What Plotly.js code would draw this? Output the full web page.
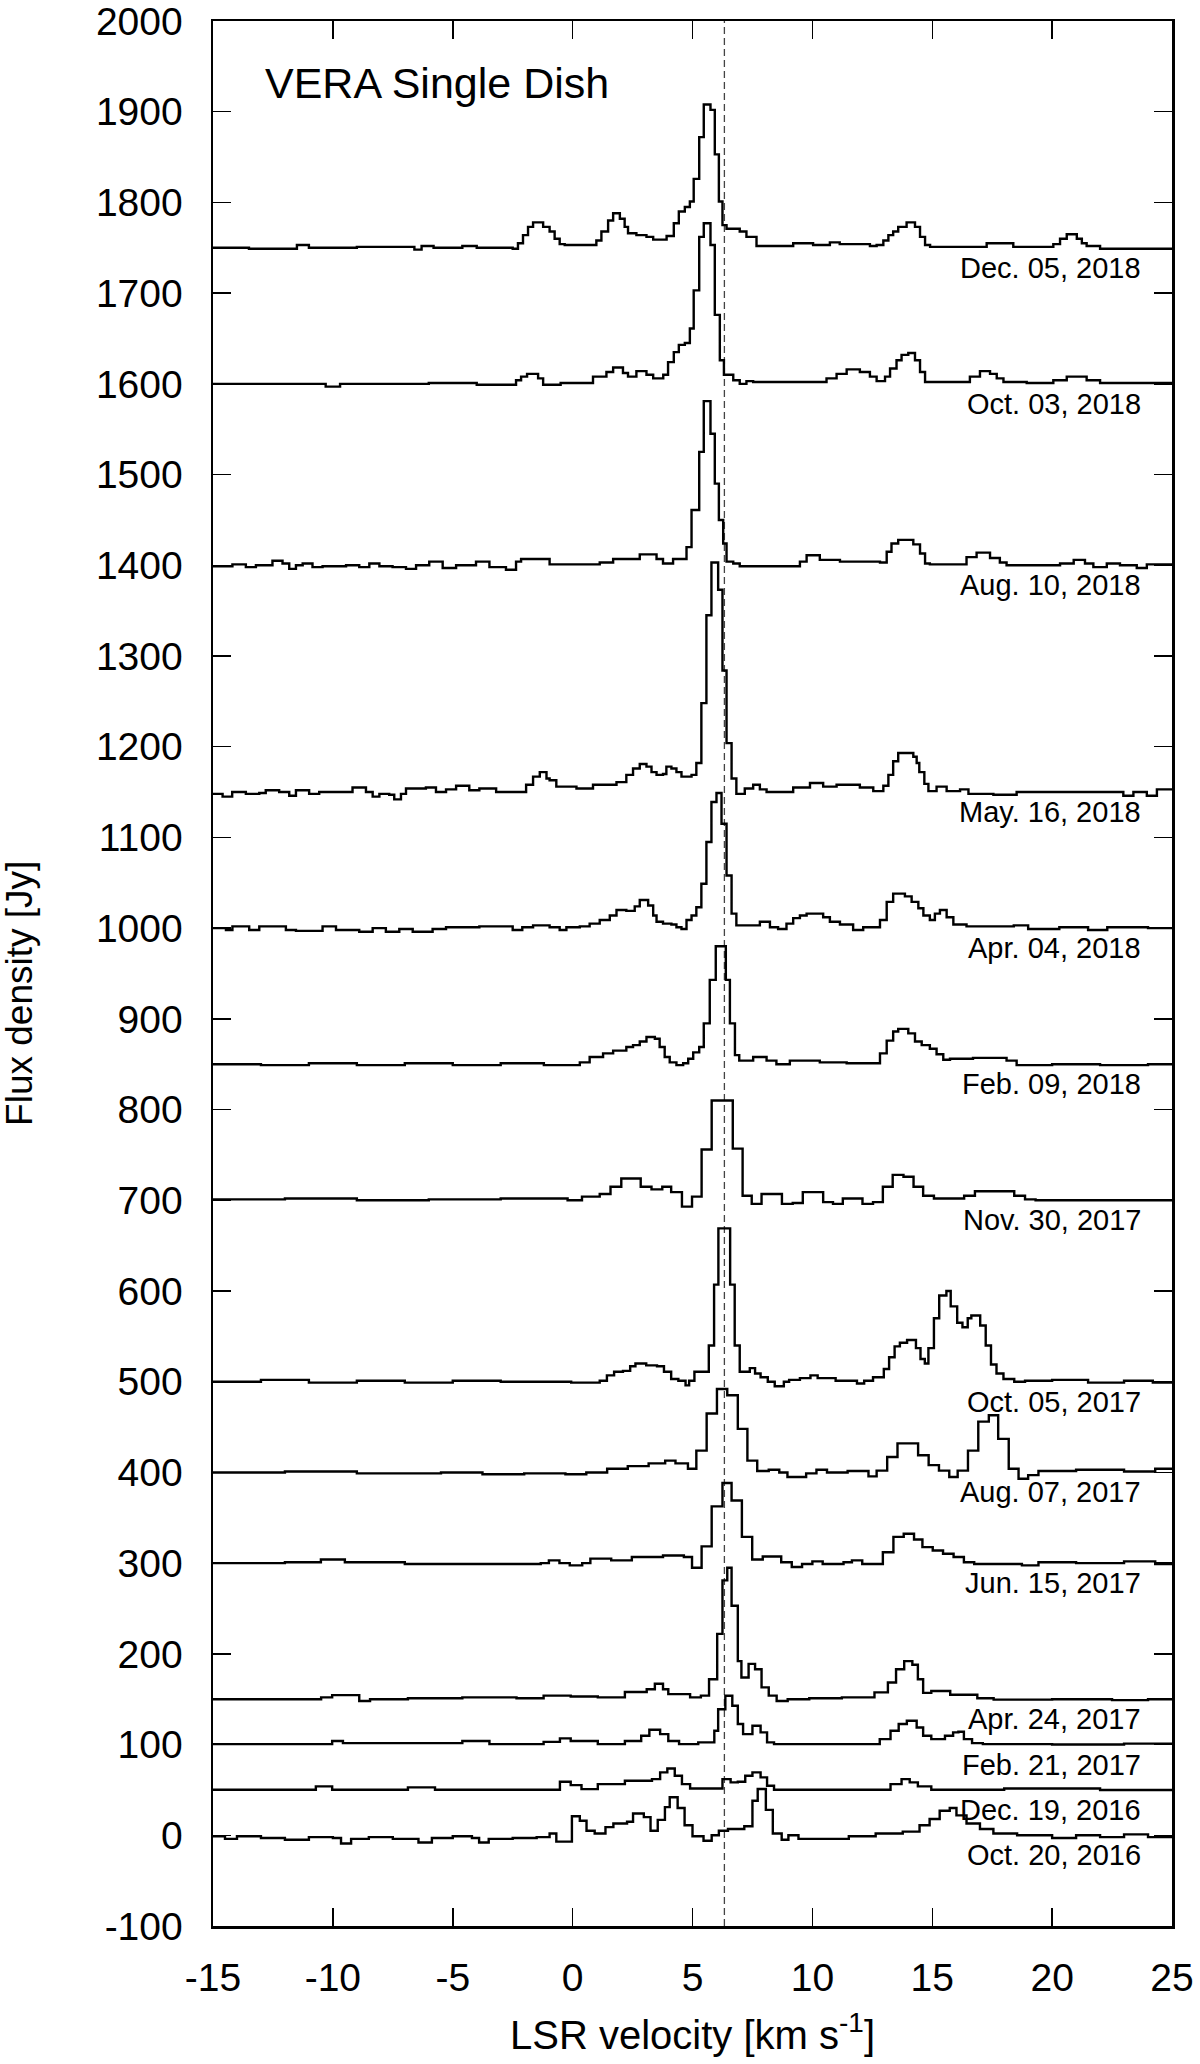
<!DOCTYPE html>
<html>
<head>
<meta charset="utf-8">
<script src="https://cdn.plot.ly/plotly-3.0.1.min.js"></script>
<style>
html,body{margin:0;padding:0;background:#fff;}
#chart{width:1200px;height:2064px;}
</style>
</head>
<body>
<div id="chart"></div>
<script>
// ---------------- DATA ----------------
// Each spectrum: channel left-edge velocities (km/s) and flux density (Jy, already offset)
const dates = ['Dec. 05, 2018','Oct. 03, 2018','Aug. 10, 2018','May. 16, 2018','Apr. 04, 2018','Feb. 09, 2018','Nov. 30, 2017','Oct. 05, 2017','Aug. 07, 2017','Jun. 15, 2017','Apr. 24, 2017','Feb. 21, 2017','Dec. 19, 2016','Oct. 20, 2016'];
const offsets = [1750,1600,1400,1150,1000,850,700,500,400,300,150,100,50,0];
const systemicVelocity = 6.33;

const xTickLabels = ['-15','-10','-5','0','5','10','15','20','25'];
const yTickLabels = ['-100','0','100','200','300','400','500','600','700','800','900','1000','1100','1200','1300','1400','1500','1600','1700','1800','1900','2000'];

const v_20181205 = [-15,-13.5,-11.5,-11.0,-9,-6.6,-6.3,-5.8,-4.6,-4.0,-2.5,-2.28,-2.07,-1.86,-1.65,-1.23,-0.96,-0.75,-0.54,-0.33,0.99,1.20,1.48,1.69,1.97,2.17,2.31,2.66,3.08,3.36,3.92,4.22,4.43,4.68,4.89,5.05,5.28,5.47,5.75,5.93,6.10,6.25,6.42,6.97,7.25,7.67,9.20,10.03,10.73,11.14,12.40,12.68,12.96,13.17,13.37,13.58,13.93,14.28,14.49,14.70,14.91,17.27,18.38,20.05,20.33,20.61,21.03,21.24,21.44,22.0,25];
const f_20181205 = [1750,1749,1753,1750,1751,1748,1752,1750,1752,1750,1749,1755,1764,1773,1778,1773,1768,1760,1754,1753,1758,1768,1780,1788,1782,1773,1766,1764,1762,1759,1763,1777,1790,1795,1801,1826,1872,1908,1902,1853,1801,1775,1771,1768,1762,1752,1755,1753,1756,1754,1752,1753,1758,1764,1768,1773,1778,1773,1762,1753,1751,1755,1751,1754,1760,1765,1760,1755,1752,1749,1749];

const v_20181003 = [-15,-10.3,-9.7,-6,-4,-2.36,-2.15,-1.9,-1.44,-1.23,-0.5,0.85,1.41,1.69,2.10,2.31,2.66,3.08,3.36,3.78,3.98,4.22,4.43,4.68,4.89,5.05,5.28,5.47,5.75,5.93,6.14,6.31,6.70,6.97,7.25,7.53,10.59,11.01,11.43,11.98,12.40,12.68,13.03,13.24,13.51,13.72,14.0,14.28,14.49,14.70,16.57,16.99,17.41,17.69,17.97,18.94,20.05,20.61,21.44,22.0,25];
const f_20181003 = [1600,1597,1600,1601,1599,1604,1608,1611,1606,1599,1601,1608,1613,1618,1612,1608,1614,1610,1606,1610,1624,1635,1643,1645,1661,1703,1762,1777,1753,1676,1626,1610,1604,1600,1603,1602,1606,1611,1616,1613,1608,1603,1608,1617,1626,1632,1634,1626,1613,1602,1608,1614,1611,1606,1602,1601,1604,1608,1604,1601,1601];

const v_20180810 = [-15,-14.19,-13.63,-13.21,-12.52,-12.1,-11.82,-11.54,-11.26,-10.85,-10.43,-9.45,-8.9,-8.48,-8.06,-7.51,-6.95,-6.53,-5.98,-5.42,-4.86,-4.03,-3.47,-2.78,-2.36,-2.15,-0.96,1.13,1.69,2.80,3.50,3.77,4.19,4.75,4.96,5.28,5.47,5.75,5.93,6.10,6.28,6.42,6.70,6.97,9.48,9.76,10.31,11.15,12.82,13.10,13.30,13.58,14.21,14.49,14.70,14.90,16.43,16.85,17.41,17.82,18.1,20.33,20.9,21.37,21.72,22.28,22.83,23.53,23.95,25];
const f_20180810 = [1399,1401,1398,1400,1405,1402,1396,1400,1402,1398,1399,1400,1398,1402,1399,1398,1396,1400,1404,1397,1400,1404,1398,1395,1404,1407,1401,1403,1407,1412,1407,1402,1407,1420,1461,1525,1581,1545,1490,1450,1424,1404,1402,1399,1404,1411,1406,1404,1403,1415,1424,1428,1423,1413,1402,1401,1409,1414,1408,1403,1400,1402,1406,1402,1398,1402,1400,1397,1401,1401];

const v_20180516 = [-15,-14.6,-14.2,-13.63,-13.07,-12.8,-12.24,-11.82,-11.54,-10.99,-10.57,-9.18,-8.62,-8.34,-8.06,-7.65,-7.44,-7.16,-6.95,-6.12,-5.70,-5.28,-4.86,-4.31,-3.89,-3.19,-1.94,-1.65,-1.37,-1.09,-0.96,-0.68,0.16,0.85,1.83,2.24,2.52,2.80,3.08,3.29,3.50,3.77,3.91,4.12,4.33,4.54,4.96,5.16,5.37,5.58,5.79,6.07,6.25,6.42,6.63,6.83,7.18,7.53,7.81,8.09,9.20,9.90,10.45,11.01,11.98,12.54,12.96,13.17,13.37,13.58,14.21,14.35,14.46,14.67,14.84,15.18,15.60,16.16,16.51,17.55,18.52,22.97,23.39,23.95,24.37,25];
const f_20180516 = [1148,1145,1150,1148,1149,1152,1150,1146,1152,1148,1150,1155,1150,1145,1148,1147,1142,1148,1154,1155,1150,1153,1157,1152,1154,1150,1158,1167,1172,1165,1163,1156,1154,1158,1161,1169,1176,1181,1178,1172,1169,1170,1178,1176,1172,1167,1169,1182,1248,1345,1403,1373,1284,1204,1165,1148,1154,1158,1153,1150,1155,1160,1156,1158,1155,1151,1157,1169,1184,1193,1189,1182,1172,1159,1151,1156,1151,1153,1148,1147,1150,1146,1150,1146,1153,1153];

const v_20180404 = [-15,-14.46,-14.19,-13.49,-13.07,-11.96,-11.54,-10.43,-9.87,-8.9,-8.34,-7.79,-7.23,-6.67,-5.84,-5.28,-3.89,-2.5,-2.1,-1.65,-0.96,-0.54,-0.26,0.30,0.71,1.13,1.55,1.83,2.24,2.59,2.80,3.15,3.36,3.50,3.77,4.12,4.33,4.54,4.75,4.96,5.16,5.37,5.58,5.79,6.0,6.21,6.42,6.63,6.83,7.81,8.23,8.57,8.92,9.20,9.48,9.76,10.45,10.73,11.15,11.70,12.12,12.82,13.10,13.37,13.86,14.14,14.42,14.63,14.90,15.11,15.32,15.60,15.88,16.43,18.4,19.0,20.3,21.5,22.3,24,25];
const f_20180404 = [1000,998,1002,998,1002,998,997,1002,998,996,1000,996,999,996,999,1001,1002,998,1001,1003,1001,998,1001,1002,1005,1009,1014,1020,1019,1024,1031,1025,1014,1007,1005,1004,1001,999,1009,1014,1023,1049,1095,1139,1149,1115,1058,1016,1003,1007,1001,999,1005,1011,1014,1016,1012,1007,1004,998,1001,1009,1029,1038,1035,1029,1022,1014,1009,1016,1020,1012,1004,1002,1003,999,1001,998,1001,1000,1000];

const v_20180209 = [-15,-13,-11,-9,-7,-5,-3,-1.2,0.30,0.71,1.27,1.69,2.24,2.52,2.80,3.08,3.43,3.63,3.84,4.05,4.33,4.61,4.82,5.03,5.28,5.47,5.72,5.97,6.39,6.56,6.77,6.95,7.53,8.09,8.50,9.06,10.31,11.43,12.82,13.10,13.37,13.58,14.0,14.28,14.56,14.90,15.18,15.46,15.74,16.7,18.1,18.52,20,22,24,25];
const f_20180209 = [850,849,851,849,851,849,851,849,852,858,862,865,869,871,875,880,878,869,858,852,849,851,856,863,869,895,943,980,943,895,860,854,858,854,850,854,852,851,862,876,886,889,884,875,871,867,861,855,856,857,854,849,850,849,850,850];

const v_20171130 = [-15,-12,-9,-6,-3,-0.21,0.39,1.13,1.58,2.03,2.84,3.29,3.74,4.11,4.56,4.98,5.38,5.80,6.68,7.09,7.47,7.88,8.73,9.18,9.60,10.45,10.86,11.27,12.09,12.53,12.94,13.35,13.80,14.22,14.62,15.07,16.33,16.78,18.42,18.87,19.31,25];
const f_20171130 = [701,702,700,701,702,700,704,707,715,724,715,712,715,709,693,704,756,810,757,705,696,707,696,697,709,698,696,702,696,698,715,728,726,715,705,702,705,710,705,701,700,700];

const v_20171005 = [-15,-13,-11,-9,-7,-5,-3,-0.06,1.13,1.43,1.73,2.10,2.40,2.62,3.07,3.52,3.81,4.11,4.41,4.71,4.86,5.08,5.68,5.90,6.08,6.57,6.76,6.97,7.39,7.61,7.84,8.14,8.43,8.81,9.03,9.48,9.92,10.22,10.97,11.86,12.16,12.53,12.98,13.20,13.43,13.65,13.95,14.32,14.51,14.69,14.84,15.07,15.29,15.59,15.77,16.04,16.26,16.48,16.63,17.0,17.23,17.45,17.68,17.97,18.42,18.87,20,21.5,23,24.2,25];
const f_20171005 = [500,502,499,501,499,501,500,499,501,507,511,512,517,520,518,517,511,503,501,496,501,511,540,607,669,607,540,511,515,509,505,500,495,500,502,504,507,504,501,498,501,505,514,527,539,543,546,537,525,520,537,570,595,600,583,565,560,570,573,562,540,519,509,503,500,501,502,499,501,499,499];

const v_20170807 = [-15,-12,-9,-7.2,-5.49,-3.76,-2.02,-0.30,0.57,1.44,2.30,3.17,3.86,4.29,4.81,5.16,5.59,6.02,6.45,6.89,7.29,7.70,8.18,8.62,8.96,9.74,10.17,10.61,11.47,12.34,12.68,13.12,13.55,14.41,14.85,15.28,15.71,16.06,16.49,16.92,17.36,17.75,18.19,18.60,19.0,19.43,21,23,24.3,25];
const f_20170807 = [400,401,399,399,400,398,399,398,400,404,407,410,413,410,404,424,465,492,485,448,413,401.5,403,400,395,399,403,400,401.5,395.6,402,417,432,419,408,402,395,402,424,456,463,437,404,393,397,401.5,403,401,404,404];

const v_20170615 = [-15,-12,-10.5,-9.5,-7,-3,-1.33,-0.99,-0.55,-0.12,0.40,0.74,1.61,2.47,3.77,4.64,4.98,5.38,5.80,6.25,6.63,7.06,7.49,7.93,8.70,9.14,9.57,10.0,10.43,10.87,11.30,11.65,12.08,12.94,13.38,13.81,14.24,14.59,15.02,15.45,15.89,16.32,16.75,18.74,19.43,21,23,24.3,25];
const f_20170615 = [300,301,304,301,299,299,300,303,300,297.5,300,305,303,306.7,308.5,306.7,295,318.5,362.6,388.3,369,329,304,307.4,301,295.7,299,302,299,299,301,303,299,312,329,332.4,326,317.7,314,310.4,306.7,301,299,297.5,301,300,302,299,299];

const v_20170424 = [-15,-10.49,-10.03,-8.90,-8.45,-6.87,-4.60,-2.34,-1.21,-0.08,1.05,2.18,3.09,3.43,3.77,3.99,4.44,4.90,5.35,5.69,6.03,6.25,6.45,6.63,6.89,7.04,7.34,7.61,7.88,8.18,8.51,8.97,9.87,11.23,12.59,13.15,13.49,13.83,14.17,14.40,14.62,14.96,15.75,16.88,17.56,20,22.5,24,25];
const f_20170424 = [150,152,154.5,148,150,151,152,151,154,153,152,158,161,167,161,155.6,155.6,152,154,172,222,281,295,253,192,174,189,183,163,154,148,150,151,152,157.5,168.5,183,192,188,172,157,159,155,151,149.5,150,149,150,150];

const v_20170221 = [-15,-10.03,-9.58,-4.60,-3.47,-1.21,-0.53,-0.08,1.05,2.18,2.86,3.20,3.65,3.99,4.44,5.24,5.91,6.07,6.37,6.66,6.89,7.11,7.50,7.84,8.11,8.40,12.81,13.26,13.60,13.94,14.35,14.62,14.96,15.53,15.87,16.09,16.32,16.66,17.11,20,23,25];
const f_20170221 = [100.5,104,101.6,104,100.5,103,106.8,104,100.5,104,109.7,116.3,111.5,104,100.5,102.4,115.2,139,153.8,142.8,122.6,111.5,120.7,113.4,102.4,100.5,106,115.2,122.6,126.3,118.9,109.7,106,109.7,113.4,114.1,106,101.6,100.5,100,101,101];

const v_20161219 = [-15,-10.71,-10.03,-6.87,-5.74,-0.53,-0.08,0.37,1.05,2.18,3.31,3.65,3.95,4.26,4.56,4.90,6.25,6.59,6.89,7.20,7.50,7.84,8.11,8.40,13.26,13.72,14.06,14.40,14.96,18,22,25];
const f_20161219 = [50.2,53.9,50.2,52.8,50.2,59,55.3,50.9,56.4,60.1,61.9,69.3,73.7,65.6,56.4,51.6,61.9,58.3,59,65.6,69.3,63.8,54.6,50.2,56.4,61.9,58.3,53.9,50.2,51.5,50,50];

const v_20161020 = [-15,-14.5,-14,-13,-12,-11,-10,-9.66,-9.24,-8.5,-7.5,-6.43,-5.87,-5,-4.2,-3.9,-3.5,-2.5,-1.5,-0.96,-0.68,-0.03,0.30,0.58,0.92,1.37,1.70,2.27,2.52,2.97,3.25,3.55,3.85,4.05,4.38,4.67,5.0,5.46,5.8,6.1,6.48,7.16,7.5,7.72,8.06,8.35,8.72,9.0,9.42,11.52,12.64,13.77,14.47,14.89,15.31,15.73,16.01,16.43,16.99,17.55,18.54,20,21,22,23,24,25];
const f_20161020 = [-1,-4,-1,-3,-5,-2,-3,-9,-4,-2,-4,-8,-3,-1,-3,-8,-4,-3,-2,2,-7,21,16,5,2,9,13,15,24,20,5,17,31,42,30,11,-1,-6,0,5,7,10,38,51,28,2,-5,0,-4,-1,2,4,11,18,27,30,22,13,7,2,0,-3,0,-2,1,-2,-2];

// ---------------- BUILD ----------------
const spectra = [
  [v_20181205, f_20181205], [v_20181003, f_20181003], [v_20180810, f_20180810],
  [v_20180516, f_20180516], [v_20180404, f_20180404], [v_20180209, f_20180209],
  [v_20171130, f_20171130], [v_20171005, f_20171005], [v_20170807, f_20170807],
  [v_20170615, f_20170615], [v_20170424, f_20170424], [v_20170221, f_20170221],
  [v_20161219, f_20161219], [v_20161020, f_20161020]
];

const FONT = 'Liberation Sans, Arial, Helvetica, sans-serif';

const traces = spectra.map(([v, f], i) => ({
  x: v, y: f, type: 'scatter', mode: 'lines', name: dates[i],
  line: {shape: 'hv', color: '#000', width: 2.4},
  hoverinfo: 'skip'
}));

const annotations = dates.map((d, i) => ({
  text: d, xref: 'x', yref: 'y', x: 23.8, y: offsets[i] - 22,
  xanchor: 'right', yanchor: 'middle', showarrow: false,
  font: {family: FONT, size: 29, color: '#000'}
}));

annotations.push({
  text: 'VERA Single Dish', xref: 'x', yref: 'y', x: -12.93, y: 1932,
  xanchor: 'left', yanchor: 'middle', showarrow: false,
  font: {family: FONT, size: 43, color: '#000'}
});
annotations.push({
  text: 'Flux density [Jy]', xref: 'paper', yref: 'paper', x: -0.2013, y: 0.4898,
  xanchor: 'center', yanchor: 'middle', textangle: -90, showarrow: false,
  font: {family: FONT, size: 37, color: '#000'}
});
annotations.push({
  text: 'LSR velocity [km s<sup>-1</sup>]', xref: 'paper', yref: 'paper', x: 0.5, y: -0.0556,
  xanchor: 'center', yanchor: 'middle', showarrow: false,
  font: {family: FONT, size: 40, color: '#000'}
});

const axisCommon = {
  ticks: 'inside', ticklen: 18, tickwidth: 1.5, tickcolor: '#000',
  showline: true, linewidth: 2.5, linecolor: '#000', mirror: 'ticks',
  showgrid: false, zeroline: false, tickmode: 'array',
  ticklabeloverflow: 'allow',
  tickfont: {family: FONT, size: 39, color: '#000'}, fixedrange: true
};

const layout = {
  width: 1200, height: 2064,
  margin: {l: 213, r: 28, t: 21, b: 138, pad: 0},
  paper_bgcolor: '#fff', plot_bgcolor: '#fff',
  showlegend: false,
  font: {family: FONT, color: '#000'},
  xaxis: Object.assign({}, axisCommon, {
    range: [-15, 25], tickvals: xTickLabels.map(Number), ticktext: xTickLabels,
    ticklabelstandoff: 16
  }),
  yaxis: Object.assign({}, axisCommon, {
    range: [-100, 2000], tickvals: yTickLabels.map(Number), ticktext: yTickLabels,
    ticklabelstandoff: 20
  }),
  shapes: [{
    type: 'line', xref: 'x', yref: 'paper', x0: systemicVelocity, x1: systemicVelocity, y0: 0, y1: 1,
    line: {color: '#444', width: 1.3, dash: '7px,4px'}, layer: 'below'
  }],
  annotations: annotations
};

Plotly.newPlot('chart', traces, layout, {staticPlot: true, displayModeBar: false});
</script>
</body>
</html>
